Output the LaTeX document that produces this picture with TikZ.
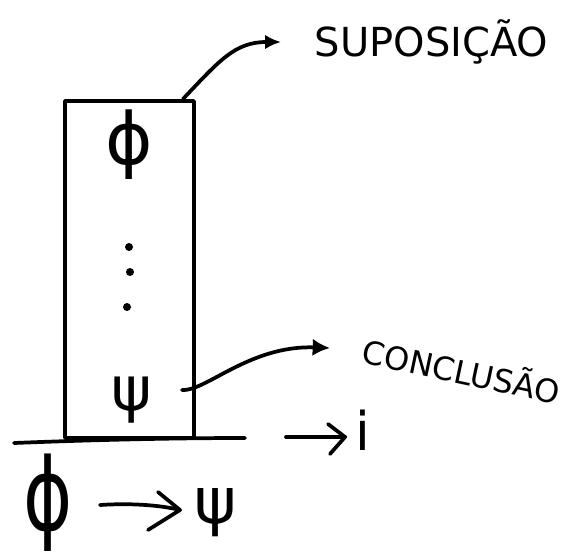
\documentclass[tikz,border=0pt]{standalone}
\usepackage{fontspec}
\setmainfont{DejaVu Sans}
\usetikzlibrary{arrows.meta}
\begin{document}
\begin{tikzpicture}[x=0.75pt,y=-0.75pt, line width=2.8pt, line cap=round, line join=round,
  sym/.style={inner sep=0pt},
  lbl/.style={inner sep=0pt, anchor=west, font=\fontsize{30}{34}\selectfont},
  lead/.style={line width=2.8pt},
  dotmark/.style={circle, fill, inner sep=0pt, minimum size=6pt}]
\useasboundingbox (0,0) rectangle (575,554);
% box
\node[draw, line width=2.8pt, minimum width=96.75pt, minimum height=252.75pt, inner sep=0pt] (box) at (129.5,269.5) {};
% contents
\node[sym, font=\fontsize{54}{60}\selectfont] (phiIn) at (129,145) {ϕ};
\node[dotmark] (d1) at (129,247) {};
\node[dotmark] (d2) at (130,272) {};
\node[dotmark] (d3) at (127,307) {};
\node[sym, font=\fontsize{46}{52}\selectfont] (psiIn) at (132,400) {ψ};
% rule
\coordinate (ruleL) at (14,443);
\coordinate (ruleR) at (245,438);
\draw (ruleL) .. controls (90,440) and (170,438) .. (ruleR);
% rule name
\coordinate (iA) at (286,437);
\node[sym, font=\fontsize{40}{46}\selectfont] (iname) at (363,430) {i};
\coordinate (iT) at (345,437);
\draw (iA) -- (iT);
\draw (iT) ++(-17,-13) -- (iT) -- ++(-15,17);
% conclusion formula
\node[sym, font=\fontsize{56}{64}\selectfont, yscale=1.35] (phiB) at (48,503) {ϕ};
\node[sym, font=\fontsize{48}{54}\selectfont] (psiB) at (216,513) {ψ};
\coordinate (arrA) at (100,505);
\coordinate (arrT) at (180,510);
\draw (arrA) .. controls (130,503) and (160,505) .. (arrT);
\draw (arrT) ++(-22,-18) -- (arrT) -- ++(-32,20);
% labels
\node[lbl] (sup) at (313,42) {SUPOSIÇÃO};
\node[lbl, font=\fontsize{24}{28}\selectfont, rotate=-12, anchor=west] (conc) at (362,348) {CONCLUSÃO};
% leaders
\coordinate (supStart) at (183,99);
\draw[lead, -{Latex[length=12pt,width=11pt]}] (supStart) .. controls (220,60) and (235,42) .. ([xshift=-24pt]sup.west);
\coordinate (concStart) at (182,390);
\draw[lead, -{Latex[length=13pt,width=13pt]}] (concStart) .. controls (205,392) and (250,345) .. ([xshift=-24pt]conc.west);
\end{tikzpicture}
\end{document}
